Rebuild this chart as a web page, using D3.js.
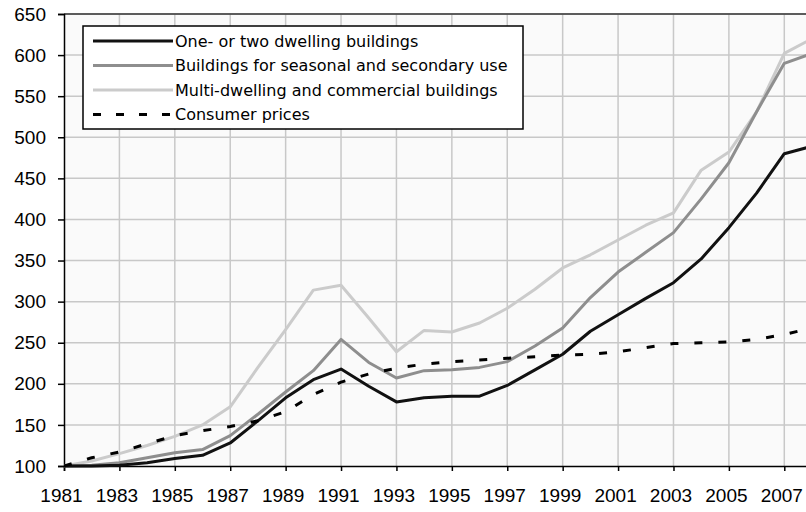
<!DOCTYPE html>
<html>
<head>
    <meta charset="utf-8">
    <script src="https://d3js.org/d3.v7.min.js"></script>
    <style>
        body { margin: 0; background: #fff; }
    </style>
</head>
<body>
    <script>
        // data (index, 1981 = 100)
        var years = d3.range(1981, 2009);
        var oneTwoDwelling = [100, 100, 101, 104, 109, 113, 128, 155, 183, 205, 218, 197, 178, 183, 185, 185, 198, 217, 236, 264, 284, 304, 323, 352, 390, 432, 480, 489];
        var seasonal = [100, 101, 104, 110, 116, 120, 137, 163, 190, 216, 254, 226, 207, 216, 217, 220, 227, 246, 268, 305, 336, 360, 384, 425, 469, 531, 590, 602];
        var multiDwelling = [100, 106, 115, 125, 136, 150, 172, 220, 266, 314, 320, 280, 239, 265, 263, 274, 292, 315, 341, 357, 375, 393, 408, 460, 482, 531, 602, 620];
        var consumerPrices = [100, 110, 117, 127, 137, 143, 148, 155, 166, 187, 202, 212, 219, 224, 227, 229, 231, 233, 235, 236, 239, 244, 249, 250, 251, 254, 260, 268];
        var seriesNames = ["One- or two dwelling buildings", "Buildings for seasonal and secondary use", "Multi-dwelling and commercial buildings", "Consumer prices"];
        var yTicks = d3.range(100, 651, 50);
        var xTicks = d3.range(1981, 2009, 2);

        var width = 806, height = 512;
        var margin = { top: 14, left: 64, bottom: 46 };

        var svg = d3.select("body").append("svg")
            .attr("width", width)
            .attr("height", height);

        var x = d3.scaleLinear().domain([1981, 2008]).range([margin.left, 812]);
        var y = d3.scaleLinear().domain([100, 650]).range([height - margin.bottom, margin.top]);

        // plot background
        svg.append("rect")
            .attr("x", margin.left).attr("y", margin.top)
            .attr("width", width - margin.left).attr("height", y(100) - margin.top)
            .attr("fill", "#fafafa");

        // grid
        svg.append("g").selectAll("line").data(yTicks.slice(1)).join("line")
            .attr("x1", margin.left).attr("x2", width)
            .attr("y1", d => y(d)).attr("y2", d => y(d))
            .attr("stroke", "#c8c8c8").attr("stroke-width", 1.5);
        svg.append("g").selectAll("line").data(xTicks.slice(1)).join("line")
            .attr("x1", d => x(d)).attr("x2", d => x(d))
            .attr("y1", margin.top).attr("y2", y(100))
            .attr("stroke", "#c8c8c8").attr("stroke-width", 1.5);

        // top border
        svg.append("line")
            .attr("x1", margin.left).attr("x2", width)
            .attr("y1", margin.top).attr("y2", margin.top)
            .attr("stroke", "#333").attr("stroke-width", 1.5);

        // axes
        var yAxis = svg.append("g")
            .attr("transform", "translate(" + margin.left + ",0)")
            .call(d3.axisLeft(y).tickValues(yTicks).tickSize(6).tickPadding(12));
        var xAxis = svg.append("g")
            .attr("transform", "translate(0," + y(100) + ")")
            .call(d3.axisBottom(x).tickValues(xTicks).tickFormat(d3.format("d")).tickSize(5).tickPadding(18));
        [yAxis, xAxis].forEach(function (a) {
            a.attr("font-family", "'Liberation Sans', Arial, sans-serif").attr("font-size", 19);
            a.select(".domain").attr("stroke", "#000").attr("stroke-width", 1.5);
            a.selectAll(".tick line").attr("stroke", "#000").attr("stroke-width", 1.5);
            a.selectAll("text").attr("fill", "#000");
        });
        xAxis.selectAll("text").attr("dx", "-3");

        // lines
        var styles = [
            { data: oneTwoDwelling, color: "#111", dash: null },
            { data: seasonal, color: "#8e8e8e", dash: null },
            { data: multiDwelling, color: "#cbcbcb", dash: null },
            { data: consumerPrices, color: "#000", dash: "8,16" }
        ];
        var line = d3.line().x((d, i) => x(years[i])).y(d => y(d));

        svg.append("clipPath").attr("id", "plot")
            .append("rect").attr("x", margin.left).attr("y", 0)
            .attr("width", width - margin.left).attr("height", y(100) + 2);

        var plot = svg.append("g").attr("clip-path", "url(#plot)");
        [2, 1, 0, 3].forEach(function (k) {
            var s = styles[k];
            plot.append("path")
                .datum(s.data)
                .attr("d", line)
                .attr("fill", "none")
                .attr("stroke", s.color)
                .attr("stroke-width", 3)
                .attr("stroke-linejoin", "round")
                .attr("stroke-dasharray", s.dash);
        });

        // legend
        var legend = svg.append("g").attr("transform", "translate(83,26)");
        legend.append("rect")
            .attr("width", 440).attr("height", 103)
            .attr("fill", "#fff").attr("stroke", "#000").attr("stroke-width", 1.5);
        var item = legend.selectAll("g.item").data(seriesNames).join("g")
            .attr("class", "item")
            .attr("transform", (d, i) => "translate(0," + (15 + i * 24.5) + ")");
        item.append("line")
            .attr("x1", 10).attr("x2", 90)
            .attr("stroke", (d, i) => styles[i].color)
            .attr("stroke-width", 3)
            .attr("stroke-dasharray", (d, i) => styles[i].dash ? "8,15" : null);
        item.append("text")
            .attr("x", 92).attr("dy", "0.36em")
            .attr("font-family", "'DejaVu Sans', Verdana, sans-serif")
            .attr("font-size", 16)
            .text(d => d);
    </script>
</body>
</html>
